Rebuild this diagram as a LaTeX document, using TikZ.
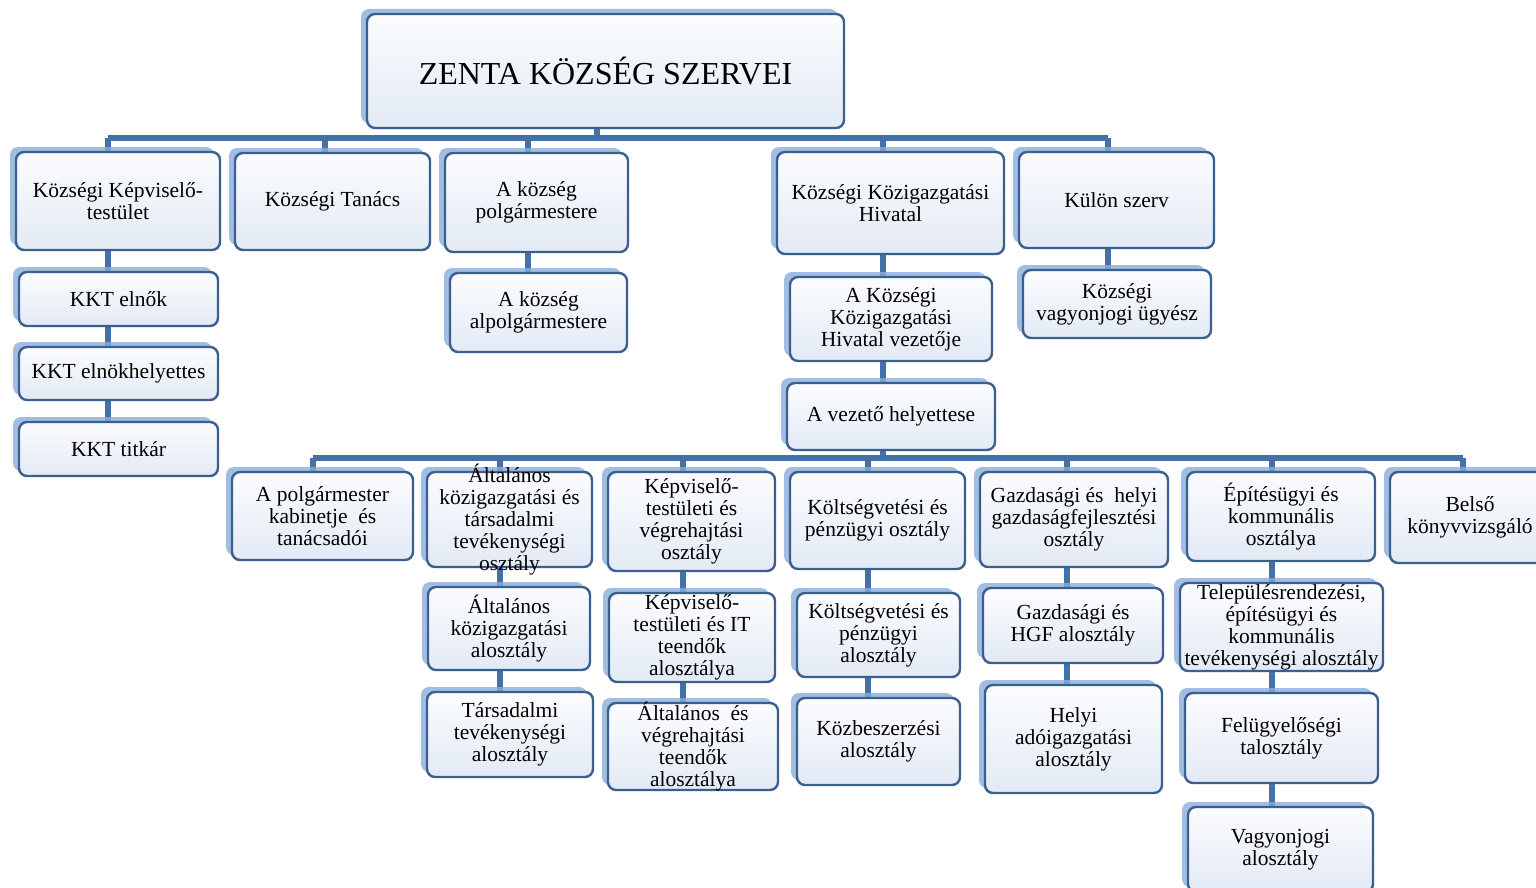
\documentclass[tikz,border=0pt]{standalone}
\usepackage{fontspec}
\setmainfont{Liberation Serif}
\usetikzlibrary{shadows,calc}
\definecolor{edgec}{HTML}{3B5F8E}
\definecolor{connc}{HTML}{4571A8}
\definecolor{shadc}{HTML}{8AADDA}
\definecolor{filltop}{HTML}{FBFCFE}
\definecolor{fillbot}{HTML}{E3EAF5}
\pgfdeclarelayer{background}
\pgfsetlayers{background,main}
\tikzset{
 orgbox/.style={draw=edgec, line width=2.4pt, rounded corners=8pt, top color=filltop, bottom color=fillbot, inner sep=0pt,
   drop shadow={shadow xshift=-6pt, shadow yshift=5pt, fill=shadc, opacity=0.8}},
 orgtext/.style={align=center, inner sep=0pt, font=\fontsize{21.5}{22}\selectfont},
 conn/.style={draw=connc, line width=5.5pt},
}
\newcommand\obox[6]{%
 \node[orgbox, minimum width={#4-#2}, minimum height={#5-#3}] (#1) at ({(#2+#4)/2},{(#3+#5)/2}) {};
 \node[orgtext] (#1t) at (#1.center) {#6};}
\begin{document}
\begin{tikzpicture}[x=1pt,y=-1pt]
\useasboundingbox (0,0) rectangle (1536,888);
% title
\obox{zenta}{367}{14}{844}{128}{\fontsize{32}{34}\selectfont ZENTA KÖZSÉG SZERVEI}
% row 1
\obox{kt}{16}{152}{220}{250}{Községi Képviselő-\\testület}
\obox{tan}{235}{153}{430}{250}{Községi Tanács}
\obox{pm}{445}{153}{628}{252}{A község\\polgármestere}
\obox{hiv}{777}{152}{1004}{254}{Községi Közigazgatási\\Hivatal}
\obox{kul}{1019}{152}{1214}{248}{Külön szerv}
% row 2
\obox{elnok}{19}{272}{218}{326}{KKT elnők}
\obox{helyet}{19}{347}{218}{400}{KKT elnökhelyettes}
\obox{titkar}{19}{422}{218}{476}{KKT titkár}
\obox{alpm}{450}{273}{627}{352}{A község\\alpolgármestere}
\obox{vez}{790}{277}{992}{361}{A Községi\\Közigazgatási\\Hivatal vezetője}
\obox{vh}{787}{383}{995}{450}{A vezető helyettese}
\obox{vugy}{1023}{270}{1211}{338}{Községi\\vagyonjogi ügyész}
% row 3
\obox{kab}{232}{472}{413}{560}{A polgármester\\kabinetje~ és\\tanácsadói}
\obox{alt}{427}{472}{592}{567}{Általános\\közigazgatási és\\társadalmi\\tevékenységi\\osztály}
\obox{kep}{608}{472}{775}{571}{Képviselő-\\testületi és\\végrehajtási\\osztály}
\obox{kolt}{790}{472}{965}{569}{Költségvetési és\\pénzügyi osztály}
\obox{gaz}{980}{472}{1168}{567}{Gazdasági és~ helyi\\gazdaságfejlesztési\\osztály}
\obox{epit}{1187}{472}{1375}{561}{Építésügyi és\\kommunális\\osztálya}
\obox{belso}{1390}{472}{1550}{563}{Belső\\könyvvizsgáló}
% row 4+
\obox{altk}{428}{587}{590}{670}{Általános\\közigazgatási\\alosztály}
\obox{tars}{427}{692}{593}{777}{Társadalmi\\tevékenységi\\alosztály}
\obox{kepit}{609}{593}{775}{682}{Képviselő-\\testületi és IT\\teendők\\alosztálya}
\obox{altv}{608}{703}{778}{790}{Általános~ és\\végrehajtási\\teendők\\alosztálya}
\obox{koltk}{797}{593}{960}{677}{Költségvetési és\\pénzügyi\\alosztály}
\obox{kozb}{797}{698}{960}{785}{Közbeszerzési\\alosztály}
\obox{gazh}{983}{588}{1163}{663}{Gazdasági és\\HGF alosztály}
\obox{ado}{985}{685}{1162}{793}{Helyi\\adóigazgatási\\alosztály}
\obox{tel}{1180}{583}{1383}{671}{Településrendezési,\\építésügyi és\\kommunális\\tevékenységi alosztály}
\obox{fel}{1185}{693}{1378}{783}{Felügyelőségi\\talosztály}
\obox{vag}{1188}{807}{1373}{892}{Vagyonjogi\\alosztály}
% connectors
\coordinate (b1L) at (108,138);
\coordinate (b1R) at (1108,138);
\coordinate (j0) at (597,138);
\coordinate (j1) at (325,138);
\coordinate (j2) at (528,138);
\coordinate (j3) at (883,138);
\coordinate (b2L) at (313,458);
\coordinate (b2R) at (1463,458);
\coordinate (k1) at (500,458);
\coordinate (k2) at (683,458);
\coordinate (k3) at (868,458);
\coordinate (k4) at (1067,458);
\coordinate (k5) at (1272,458);
\begin{pgfonlayer}{background}
\fill[white] (0,0) rectangle (1536,888);
\draw[conn] (b1L) -- (b1R);
\draw[conn] (j0) -- (j0 |- zenta.south);
\draw[conn] (b1L) -- (b1L |- titkar.north);
\draw[conn] (j1) -- (j1 |- tan.north);
\draw[conn] (j2) -- (j2 |- alpm.north);
\draw[conn] (j3) -- (j3 |- b2L);
\draw[conn] (b1R) -- (b1R |- vugy.north);
\draw[conn] (b2L) -- (b2R);
\draw[conn] (b2L) -- (b2L |- kab.north);
\draw[conn] (k1) -- (k1 |- tars.north);
\draw[conn] (k2) -- (k2 |- altv.north);
\draw[conn] (k3) -- (k3 |- kozb.north);
\draw[conn] (k4) -- (k4 |- ado.north);
\draw[conn] (k5) -- (k5 |- vag.north);
\draw[conn] (b2R) -- (b2R |- belso.north);
\end{pgfonlayer}
\end{tikzpicture}
\end{document}
